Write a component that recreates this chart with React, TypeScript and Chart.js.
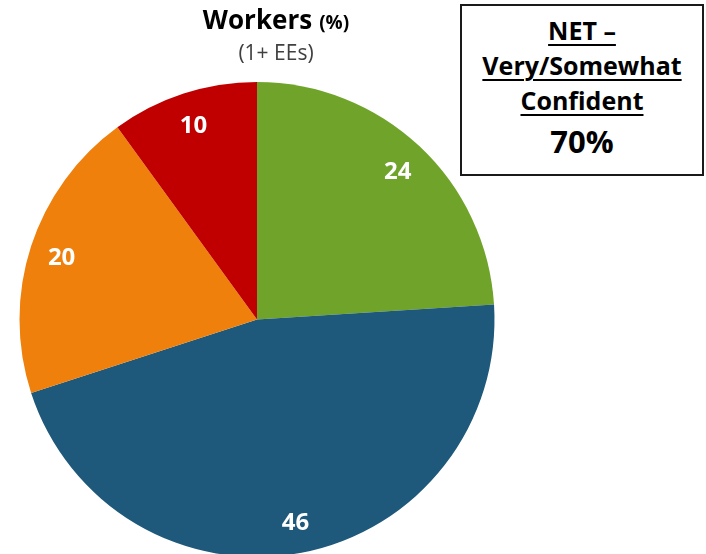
import React, { useEffect, useRef } from "react";
import { Chart, registerables } from "chart.js";

Chart.register(...registerables);

const categories = ["Very confident", "Somewhat confident", "Not too confident", "Not at all confident"];
const values = [24, 46, 20, 10];
const colors = ["#70A32A", "#1E587A", "#EF800C", "#C00000"];
const titleMain = "Workers";
const titleUnit = "(%)";
const subtitle = "(1+ EEs)";
const netLines = ["NET –", "Very/Somewhat", "Confident"];
const netValue = "70%";

const FONT = "'Open Sans', Lato, sans-serif";

const labelPlugin = {
  id: "sliceLabels",
  afterDatasetsDraw(chart: any) {
    const ctx = chart.ctx;
    const meta = chart.getDatasetMeta(0);
    ctx.save();
    ctx.fillStyle = "#ffffff";
    ctx.font = `bold 24px ${FONT}`;
    ctx.textAlign = "center";
    ctx.textBaseline = "middle";
    meta.data.forEach((arc: any, i: number) => {
      const { x, y, startAngle, endAngle, outerRadius } = arc.getProps(
        ["x", "y", "startAngle", "endAngle", "outerRadius"],
        true
      );
      const mid = (startAngle + endAngle) / 2;
      const r = outerRadius * 0.865;
      ctx.fillText(String(values[i]), x + Math.cos(mid) * r, y + Math.sin(mid) * r + 2);
    });
    ctx.restore();
  },
};

export default function App() {
  const ref = useRef<HTMLCanvasElement>(null);
  useEffect(() => {
    if (!ref.current) return;
    const chart = new Chart(ref.current, {
      type: "pie",
      data: {
        labels: categories,
        datasets: [
          {
            data: values,
            backgroundColor: colors,
            borderWidth: 0,
          },
        ],
      },
      options: {
        animation: false,
        responsive: false,
        maintainAspectRatio: false,
        layout: { padding: { left: 19.5, top: 82, right: 211.5, bottom: 43 } },
        plugins: {
          legend: { display: false },
          tooltip: { enabled: false },
          title: { display: false },
        },
      },
      plugins: [labelPlugin],
    });
    return () => chart.destroy();
  }, []);

  return (
    <div
      style={{
        position: "fixed",
        left: 0,
        top: 0,
        width: 706,
        height: 554,
        overflow: "hidden",
        background: "#ffffff",
        fontFamily: FONT,
      }}
    >
      <canvas ref={ref} width={706} height={600} style={{ position: "absolute", left: 0, top: 0 }} />
      <div
        style={{
          position: "absolute",
          left: 156,
          width: 240,
          top: 3,
          textAlign: "center",
          lineHeight: "32px",
          color: "#000",
          whiteSpace: "nowrap",
        }}
      >
        <span style={{ fontWeight: "bold", fontSize: 26 }}>{titleMain}</span>
        <span style={{ fontWeight: "bold", fontSize: 19, marginLeft: 7 }}>{titleUnit}</span>
      </div>
      <div
        style={{
          position: "absolute",
          left: 156,
          width: 240,
          top: 38,
          textAlign: "center",
          fontSize: 21,
          lineHeight: "28px",
          color: "#404040",
        }}
      >
        {subtitle}
      </div>
      <div
        style={{
          position: "absolute",
          left: 460,
          top: 4,
          width: 240,
          height: 168,
          border: "2px solid #1a1a1a",
          background: "#fff",
          textAlign: "center",
          fontWeight: "bold",
          color: "#000",
          whiteSpace: "nowrap",
        }}
      >
        <div style={{ paddingTop: 7 }}>
          {netLines.map((l, i) => (
            <div
              key={i}
              style={{
                fontSize: 25,
                lineHeight: "35px",
                textDecoration: "underline",
                textDecorationThickness: 2,
                textUnderlineOffset: 4,
              }}
            >
              {l}
            </div>
          ))}
          <div style={{ fontSize: 31, lineHeight: "42px", paddingTop: 2 }}>{netValue}</div>
        </div>
      </div>
    </div>
  );
}
